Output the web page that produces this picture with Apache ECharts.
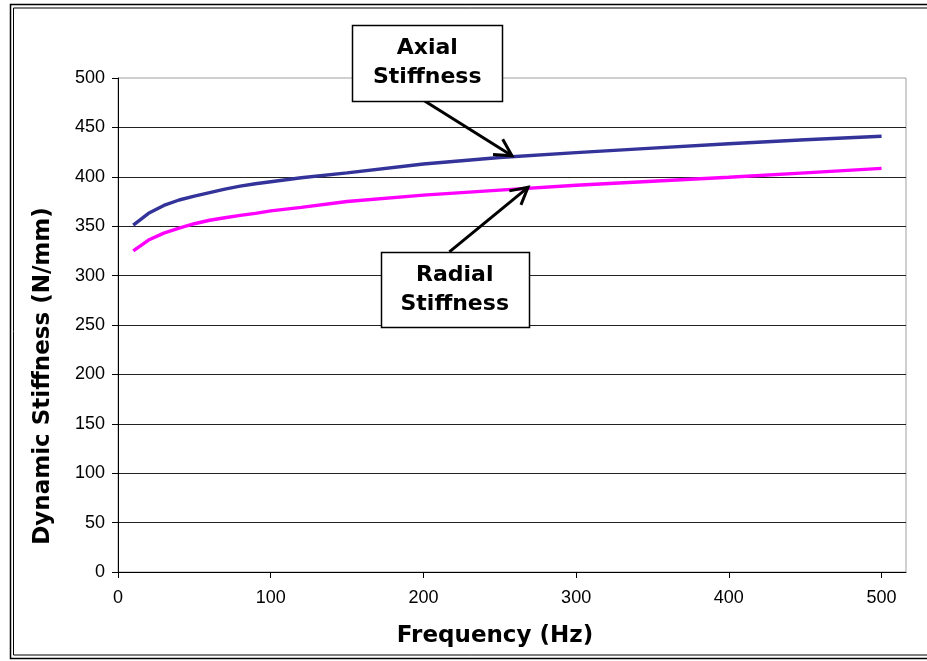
<!DOCTYPE html>
<html>
<head>
<meta charset="utf-8">
<script src="https://cdn.jsdelivr.net/npm/echarts@6/dist/echarts.min.js"></script>
<style>
  html, body { margin: 0; padding: 0; background: #fff; }
  #chart { width: 927px; height: 661px; }
</style>
</head>
<body>
<div id="chart"></div>
<script>
// Frequency sweep (Hz) and measured dynamic stiffness (N/mm)
const frequency = [10, 20, 30, 40, 50, 60, 70, 80, 90, 100, 120, 150, 200, 250, 300, 350, 400, 450, 500];
const axialStiffness = [351, 363, 371, 376.5, 380.5, 384, 387.5, 390.5, 393, 395, 399, 404, 413, 419.5, 424.5, 429, 433.5, 437.5, 441];
const radialStiffness = [325, 336, 343, 348, 352.5, 356, 358.5, 361, 363, 365.5, 369, 375, 381.5, 386.5, 391.5, 395.5, 399.5, 404, 408.5];
const xTicks = [0, 100, 200, 300, 400, 500];
const seriesNames = ['Axial Stiffness', 'Radial Stiffness'];

const FONT_TITLE = '"DejaVu Sans", Verdana, sans-serif';
const FONT_TICK = '"Liberation Sans", Arial, sans-serif';

const chart = echarts.init(document.getElementById('chart'), null, { renderer: 'canvas' });

function pairs(xs, ys) { return xs.map((x, i) => [x, ys[i]]); }

// linear interpolation along a series, used to land arrow tips on the curve
function valueAt(xs, ys, x) {
  for (let i = 1; i < xs.length; i++) {
    if (x <= xs[i]) {
      const t = (x - xs[i - 1]) / (xs[i] - xs[i - 1]);
      return ys[i - 1] + t * (ys[i] - ys[i - 1]);
    }
  }
  return ys[ys.length - 1];
}

chart.setOption({
  animation: false,
  backgroundColor: '#fff',
  grid: {
    left: 118, top: 78, right: 21, bottom: 89,
    show: true, borderColor: '#a0a0a0', borderWidth: 1, backgroundColor: 'transparent'
  },
  xAxis: {
    type: 'value', min: 0, max: 516, interval: 100,
    axisLine: { show: true, onZero: false, lineStyle: { color: '#000', width: 1 } },
    axisTick: { show: true, length: 6, customValues: xTicks, lineStyle: { color: '#000' } },
    axisLabel: { customValues: xTicks, margin: 17, color: '#000', fontFamily: FONT_TICK, fontSize: 18 },
    splitLine: { show: false }
  },
  yAxis: {
    type: 'value', min: 0, max: 500, interval: 50,
    axisLine: { show: true, lineStyle: { color: '#000', width: 1 } },
    axisTick: { show: true, length: 6, lineStyle: { color: '#000' } },
    axisLabel: { margin: 13, color: '#000', fontFamily: FONT_TICK, fontSize: 18 },
    splitLine: { show: true, showMaxLine: false, lineStyle: { color: '#222', width: 1 } }
  },
  series: [
    {
      name: seriesNames[0], type: 'line', data: pairs(frequency, axialStiffness),
      showSymbol: false, smooth: false, z: 3,
      lineStyle: { color: '#333399', width: 3.4 }
    },
    {
      name: seriesNames[1], type: 'line', data: pairs(frequency, radialStiffness),
      showSymbol: false, smooth: false, z: 3,
      lineStyle: { color: '#ff00ff', width: 3.4 }
    }
  ]
});

// Callout boxes with arrows, placed in data coordinates
const callouts = [
  { lines: ['Axial', 'Stiffness'], center: [202.5, 515], size: [150, 76], tail: [199, 478.5], tipX: 258, xs: frequency, ys: axialStiffness },
  { lines: ['Radial', 'Stiffness'], center: [220.5, 286], size: [148, 75], tail: [217, 324], tipX: 268.5, xs: frequency, ys: radialStiffness }
];

function arrowHead(tail, tip, len, spread) {
  const ang = Math.atan2(tip[1] - tail[1], tip[0] - tail[0]);
  const a1 = ang + Math.PI - spread, a2 = ang + Math.PI + spread;
  return [
    [tip[0] + len * Math.cos(a1), tip[1] + len * Math.sin(a1)],
    tip,
    [tip[0] + len * Math.cos(a2), tip[1] + len * Math.sin(a2)]
  ];
}

const graphics = [];
callouts.forEach((c) => {
  const ctr = chart.convertToPixel({ gridIndex: 0 }, c.center);
  const tail = chart.convertToPixel({ gridIndex: 0 }, c.tail);
  const tip = chart.convertToPixel({ gridIndex: 0 }, [c.tipX, valueAt(c.xs, c.ys, c.tipX)]);
  tip[1] -= 1;
  graphics.push({
    type: 'line', z: 20,
    shape: { x1: tail[0], y1: tail[1], x2: tip[0], y2: tip[1] },
    style: { stroke: '#000', lineWidth: 3 }
  });
  graphics.push({
    type: 'polyline', z: 20,
    shape: { points: arrowHead(tail, tip, 19, 0.5) },
    style: { stroke: '#000', lineWidth: 3, fill: null, lineJoin: 'miter' }
  });
  graphics.push({
    type: 'rect', z: 21,
    shape: { x: Math.round(ctr[0] - c.size[0] / 2) + 0.5, y: Math.round(ctr[1] - c.size[1] / 2) + 0.5, width: c.size[0], height: c.size[1] },
    style: { fill: '#fff', stroke: '#000', lineWidth: 1.5 }
  });
  graphics.push({
    type: 'text', z: 22, x: ctr[0], y: ctr[1],
    style: {
      text: c.lines.join('\n'), align: 'center', verticalAlign: 'middle',
      font: 'bold 22px ' + FONT_TITLE, lineHeight: 29, fill: '#000'
    }
  });
});

// Axis titles
graphics.push({
  type: 'text', z: 10, x: 43, y: 376, rotation: Math.PI / 2,
  style: { text: 'Dynamic Stiffness (N/mm)', align: 'center', verticalAlign: 'middle', font: 'bold 23px ' + FONT_TITLE, fill: '#000' }
});
graphics.push({
  type: 'text', z: 10, x: 495, y: 636,
  style: { text: 'Frequency (Hz)', align: 'center', verticalAlign: 'middle', font: 'bold 23px ' + FONT_TITLE, fill: '#000' }
});

// Double frame around the whole chart
graphics.push({
  type: 'rect', z: 30, silent: true,
  shape: { x: 10.5, y: 4.5, width: 930, height: 654 },
  style: { fill: null, stroke: '#000', lineWidth: 1.5 }
});
graphics.push({
  type: 'rect', z: 30, silent: true,
  shape: { x: 13.5, y: 8, width: 930, height: 647 },
  style: { fill: null, stroke: '#000', lineWidth: 1 }
});

chart.setOption({ graphic: graphics });
</script>
</body>
</html>
